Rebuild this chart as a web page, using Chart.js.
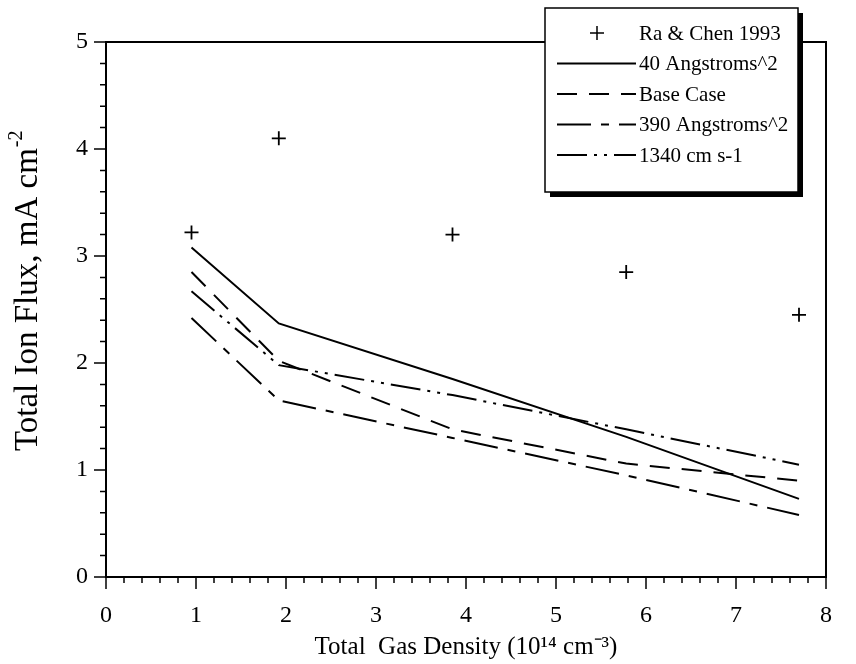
<!DOCTYPE html>
<html>
<head>
<meta charset="utf-8">
<script src="https://cdn.jsdelivr.net/npm/chart.js@4.4.1/dist/chart.umd.min.js"></script>
<style>
    body { margin: 0; background: #fff; }
</style>
</head>
<body>
<canvas id="chart" width="856" height="664"></canvas>
<script>
// Values (gas density in 10^14 cm^-3, flux in mA cm^-2)
const gasDensity = [0.95, 1.92, 3.85, 5.78, 7.7];
const raChen1993 = [3.22, 4.1, 3.2, 2.85, 2.45];
const angstroms40 = [3.08, 2.37, 1.85, 1.31, 0.73];
const baseCase = [2.85, 2.02, 1.38, 1.06, 0.9];
const angstroms390 = [2.42, 1.65, 1.3, 0.95, 0.58];
const cm1340 = [2.67, 1.98, 1.7, 1.38, 1.05];

const xTicks = [0, 1, 2, 3, 4, 5, 6, 7, 8];
const yTicks = [0, 1, 2, 3, 4, 5];

const serif = 'Liberation Serif';

// Turn two arrays into {x, y} points
const toPoints = (xs, ys) => xs.map((x, i) => ({ x: x, y: ys[i] }));

const lineSet = (label, values, dash) => ({
    label: label,
    data: toPoints(gasDensity, values),
    showLine: true,
    borderColor: '#000',
    borderWidth: 2,
    borderDash: dash,
    pointRadius: 0,
    fill: false,
    tension: 0
});

// Frame, minor/major ticks drawn with the chart scales, and the y title
const framePlugin = {
    id: 'frame',
    afterDraw(chart) {
        const ctx = chart.ctx;
        const area = chart.chartArea;
        const xs = chart.scales.x;
        const ys = chart.scales.y;
        ctx.save();
        ctx.strokeStyle = '#000';
        ctx.lineWidth = 2;
        ctx.strokeRect(area.left, area.top, area.right - area.left, area.bottom - area.top);

        ctx.lineWidth = 1.5;
        ctx.beginPath();
        for (let i = 0; i <= 40; i++) {
            const len = i % 5 === 0 ? 12 : 6;
            const px = xs.getPixelForValue(i * 0.2);
            ctx.moveTo(px, area.bottom);
            ctx.lineTo(px, area.bottom + len);
        }
        for (let i = 0; i <= 25; i++) {
            const len = i % 5 === 0 ? 12 : 6;
            const py = ys.getPixelForValue(i * 0.2);
            ctx.moveTo(area.left, py);
            ctx.lineTo(area.left - len, py);
        }
        ctx.stroke();

        // y axis title with a raised exponent
        const main = 'Total Ion Flux, mA cm';
        const sup = '-2';
        ctx.font = '33px "' + serif + '"';
        const wMain = ctx.measureText(main).width;
        ctx.font = '20px "' + serif + '"';
        const wSup = ctx.measureText(sup).width;
        ctx.translate(28, ys.getPixelForValue(2.67));
        ctx.rotate(-Math.PI / 2);
        ctx.fillStyle = '#000';
        ctx.textBaseline = 'middle';
        ctx.textAlign = 'left';
        const start = -(wMain + wSup) / 2;
        ctx.font = '33px "' + serif + '"';
        ctx.fillText(main, start, 0);
        ctx.font = '20px "' + serif + '"';
        ctx.fillText(sup, start + wMain + 1, -11);
        ctx.restore();
    }
};

// Boxed legend with a drop shadow, over the top right corner
const legendPlugin = {
    id: 'boxLegend',
    afterDraw(chart) {
        const ctx = chart.ctx;
        const box = { left: 545, top: 8, width: 253, height: 184 };
        ctx.save();
        ctx.fillStyle = '#000';
        ctx.fillRect(box.left + 5, box.top + 5, box.width, box.height);
        ctx.fillStyle = '#fff';
        ctx.fillRect(box.left, box.top, box.width, box.height);
        ctx.strokeStyle = '#000';
        ctx.lineWidth = 1.5;
        ctx.strokeRect(box.left, box.top, box.width, box.height);

        ctx.font = '21px "' + serif + '"';
        ctx.textBaseline = 'middle';
        ctx.fillStyle = '#000';
        chart.data.datasets.forEach((ds, i) => {
            const y = box.top + 25 + i * 30.5;
            if (ds.showLine) {
                ctx.lineWidth = 2;
                ctx.setLineDash(ds.borderDash || []);
                ctx.beginPath();
                ctx.moveTo(box.left + 12, y);
                ctx.lineTo(box.left + 91, y);
                ctx.stroke();
                ctx.setLineDash([]);
            } else {
                ctx.lineWidth = 1.5;
                ctx.beginPath();
                ctx.moveTo(box.left + 45, y);
                ctx.lineTo(box.left + 59, y);
                ctx.moveTo(box.left + 52, y - 7);
                ctx.lineTo(box.left + 52, y + 7);
                ctx.stroke();
            }
            ctx.fillText(ds.label, box.left + 94, y + 1);
        });
        ctx.restore();
    }
};

new Chart(document.getElementById('chart'), {
    type: 'scatter',
    data: {
        datasets: [
            {
                label: 'Ra & Chen 1993',
                data: toPoints(gasDensity, raChen1993),
                showLine: false,
                pointStyle: 'cross',
                pointRadius: 7,
                pointBorderWidth: 1.8,
                borderColor: '#000',
                backgroundColor: '#000'
            },
            lineSet('40 Angstroms^2', angstroms40, []),
            lineSet('Base Case', baseCase, [20, 12]),
            lineSet('390 Angstroms^2', angstroms390, [34, 10, 8, 10]),
            lineSet('1340 cm s-1', cm1340, [30, 7, 3, 7, 3, 7])
        ]
    },
    options: {
        responsive: false,
        animation: false,
        layout: { padding: { left: 0, right: 10, top: 42, bottom: 0 } },
        plugins: {
            legend: { display: false },
            tooltip: { enabled: false }
        },
        scales: {
            x: {
                type: 'linear',
                min: 0,
                max: 8,
                afterBuildTicks: scale => { scale.ticks = xTicks.map(v => ({ value: v })); },
                afterFit: scale => { scale.height = 87; },
                grid: { display: false, drawTicks: false },
                border: { display: false },
                ticks: {
                    color: '#000',
                    padding: 24,
                    font: { family: serif, size: 24 }
                },
                title: {
                    display: true,
                    text: 'Total  Gas Density (10\u00B9\u2074 cm\u207B\u00B3)',
                    color: '#000',
                    font: { family: serif, size: 25 },
                    padding: { top: 0, bottom: 2 }
                }
            },
            y: {
                type: 'linear',
                min: 0,
                max: 5,
                afterBuildTicks: scale => { scale.ticks = yTicks.map(v => ({ value: v })); },
                afterFit: scale => { scale.width = 106; },
                grid: { display: false, drawTicks: false },
                border: { display: false },
                ticks: {
                    color: '#000',
                    padding: 18,
                    font: { family: serif, size: 24 }
                }
            }
        }
    },
    plugins: [framePlugin, legendPlugin]
});
</script>
</body>
</html>
